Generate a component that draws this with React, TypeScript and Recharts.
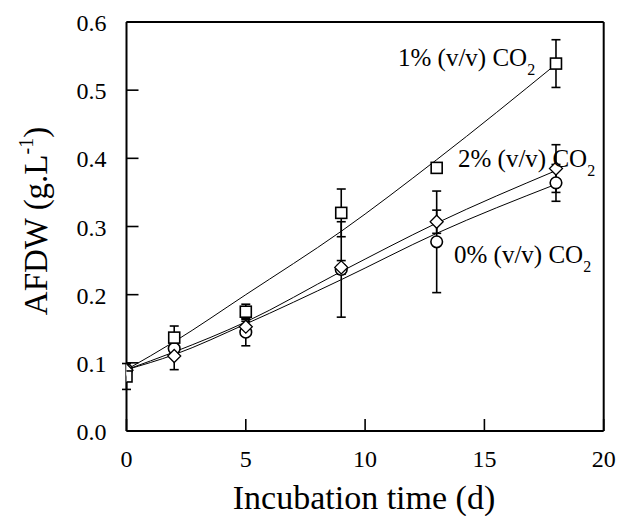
import React from 'react';
import { ComposedChart, Line, Scatter, ErrorBar, XAxis, YAxis } from 'recharts';

const FONT = '"Liberation Serif", "Times New Roman", serif';

// measured points (days, AFDW g/L) and their error bars
const DAYS = [0, 2, 5, 9, 13, 18];
const CO2_1 = [0.08, 0.137, 0.175, 0.32, 0.386, 0.539];
const CO2_1_ERR = [0.019, 0.017, 0.011, 0.035, 0.006, 0.035];
const CO2_2 = [0.089, 0.11, 0.153, 0.24, 0.307, 0.385];
const CO2_2_ERR = [0, 0.02, 0.008, 0.01, 0.017, 0.035];
const CO2_0 = [0.09, 0.121, 0.145, 0.237, 0.2775, 0.364];
const CO2_0_ERR = [0, 0.008, 0.02, 0.07, 0.0745, 0.027];

// fitted curves
const FIT_DAYS = [0, 2, 5, 9, 13, 18];
const FIT_1 = [0.09, 0.131, 0.2, 0.293, 0.398, 0.538];
const FIT_2 = [0.09, 0.116, 0.16, 0.234, 0.305, 0.382];
const FIT_0 = [0.09, 0.112, 0.157, 0.222, 0.29, 0.362];

const X_TICKS = [0, 5, 10, 15, 20];
const Y_TICKS = [0, 0.1, 0.2, 0.3, 0.4, 0.5, 0.6];

const points = (ys: number[], errs: number[]) => DAYS.map((x, i) => ({ x, y: ys[i], err: errs[i] }));
const fit = (ys: number[]) => FIT_DAYS.map((x, i) => ({ x, y: ys[i] }));

const Square = ({ cx, cy }: any) => (
  <rect x={cx - 5.5} y={cy - 5.5} width={11} height={11} fill="#fff" stroke="#000" strokeWidth={1.6} />
);
const Diamond = ({ cx, cy }: any) => (
  <path d={`M${cx},${cy - 6.5}L${cx + 6.5},${cy}L${cx},${cy + 6.5}L${cx - 6.5},${cy}Z`} fill="#fff" stroke="#000" strokeWidth={1.3} />
);
const Circle = ({ cx, cy }: any) => (
  <circle cx={cx} cy={cy} r={5.8} fill="#fff" stroke="#000" strokeWidth={1.6} />
);

const BottomTick = ({ x, y, payload }: any) => (
  <g>
    <line x1={x} y1={y} x2={x} y2={y - 12} stroke="#000" strokeWidth={1.6} />
    <text x={x} y={y + 36} textAnchor="middle" fontSize={24} fontFamily={FONT} fill="#000">{payload.value}</text>
  </g>
);
const TopTick = ({ x, y }: any) => <line x1={x} y1={y} x2={x} y2={y + 12} stroke="#000" strokeWidth={1.6} />;
const LeftTick = ({ x, y, payload }: any) => (
  <g>
    <line x1={x} y1={y} x2={x + 12} y2={y} stroke="#000" strokeWidth={1.6} />
    <text x={x - 20} y={y + 9} textAnchor="end" fontSize={24} fontFamily={FONT} fill="#000">{payload.value.toFixed(1)}</text>
  </g>
);
const RightTick = ({ x, y }: any) => <line x1={x} y1={y} x2={x - 12} y2={y} stroke="#000" strokeWidth={1.6} />;

const CurveLabel = ({ x, y, pct }: { x: number; y: number; pct: string }) => (
  <text x={x} y={y} fontSize={25} fontFamily={FONT} fill="#000">
    {pct}% (v/v) CO
    <tspan fontSize={16} dy={9}>2</tspan>
  </text>
);

export default function App() {
  const axisLine = { stroke: '#000', strokeWidth: 2 };
  return (
    <div style={{ position: 'absolute', left: 0, top: 0, width: 617, height: 516, background: '#fff' }}>
      <ComposedChart width={617} height={516} margin={{ top: 0, right: 0, bottom: 0, left: 0 }}>
        <XAxis xAxisId={0} dataKey="x" type="number" domain={[0, 20]} ticks={X_TICKS} interval={0}
          height={85} tickSize={0} tickMargin={0} axisLine={axisLine} tick={<BottomTick />} allowDataOverflow />
        <XAxis xAxisId="top" orientation="top" dataKey="x" type="number" domain={[0, 20]} ticks={[5, 10, 15]} interval={0}
          height={22} tickSize={0} tickMargin={0} axisLine={axisLine} tick={<TopTick />} />
        <YAxis yAxisId={0} type="number" domain={[0, 0.6]} ticks={Y_TICKS} interval={0}
          width={126.5} tickSize={0} tickMargin={0} axisLine={axisLine} tick={<LeftTick />} allowDataOverflow />
        <YAxis yAxisId="r" orientation="right" type="number" domain={[0, 0.6]} ticks={Y_TICKS.slice(1, 6)} interval={0}
          width={13.3} tickSize={0} tickMargin={0} axisLine={axisLine} tick={<RightTick />} />

        <Line data={fit(FIT_1)} dataKey="y" type="monotone" stroke="#000" strokeWidth={1} dot={false} isAnimationActive={false} />
        <Line data={fit(FIT_2)} dataKey="y" type="monotone" stroke="#000" strokeWidth={1} dot={false} isAnimationActive={false} />
        <Line data={fit(FIT_0)} dataKey="y" type="monotone" stroke="#000" strokeWidth={1} dot={false} isAnimationActive={false} />

        <Scatter data={points(CO2_0, CO2_0_ERR)} dataKey="y" shape={<Circle />} isAnimationActive={false}>
          <ErrorBar dataKey="err" direction="y" width={4.5} stroke="#000" strokeWidth={1.6} />
        </Scatter>
        <Scatter data={points(CO2_2, CO2_2_ERR)} dataKey="y" shape={<Diamond />} isAnimationActive={false}>
          <ErrorBar dataKey="err" direction="y" width={4.5} stroke="#000" strokeWidth={1.6} />
        </Scatter>
        <Scatter data={points(CO2_1, CO2_1_ERR)} dataKey="y" shape={<Square />} isAnimationActive={false}>
          <ErrorBar dataKey="err" direction="y" width={4.5} stroke="#000" strokeWidth={1.6} />
        </Scatter>
      </ComposedChart>

      <svg width={617} height={516} style={{ position: 'absolute', left: 0, top: 0, pointerEvents: 'none' }}>
        <CurveLabel x={398} y={66} pct="1" />
        <CurveLabel x={458} y={167} pct="2" />
        <CurveLabel x={454} y={263} pct="0" />
        <text x={364} y={509} textAnchor="middle" fontSize={34} fontFamily={FONT} fill="#000">Incubation time (d)</text>
        <text x={47} y={221} transform="rotate(-90 47 221)" textAnchor="middle" fontSize={33} fontFamily={FONT} fill="#000">
          AFDW (g.L<tspan fontSize={20} dy={-14}>-1</tspan><tspan dy={14}>)</tspan>
        </text>
      </svg>
    </div>
  );
}
